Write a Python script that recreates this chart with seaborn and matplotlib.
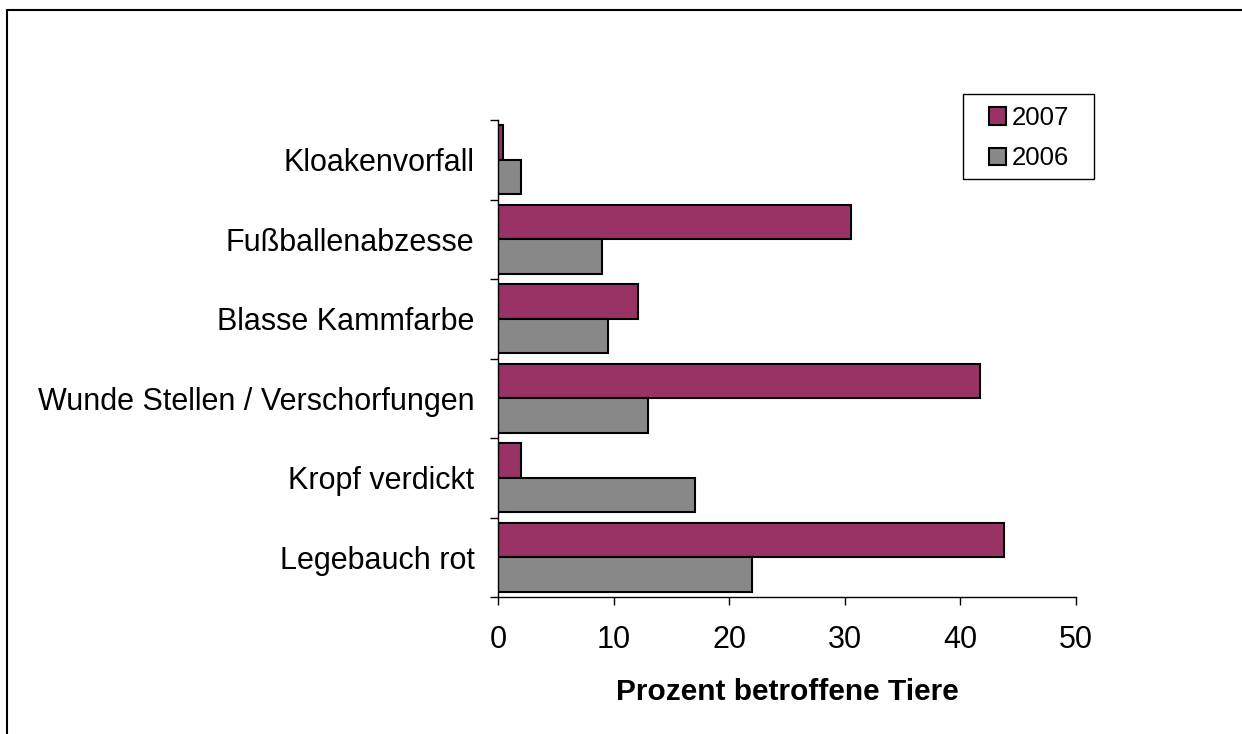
import pandas as pd
import matplotlib.pyplot as plt
import seaborn as sns
from matplotlib.patches import Rectangle

# Data
categories = ['Kloakenvorfall', 'Fußballenabzesse', 'Blasse Kammfarbe',
              'Wunde Stellen / Verschorfungen', 'Kropf verdickt', 'Legebauch rot']
values_2007 = [0.4, 30.5, 12.1, 41.7, 2.0, 43.8]
values_2006 = [2.0, 9.0, 9.5, 13.0, 17.0, 22.0]
years = ['2007', '2006']

df = pd.DataFrame({
    'Merkmal': categories * 2,
    'Jahr': ['2007'] * len(categories) + ['2006'] * len(categories),
    'Prozent': values_2007 + values_2006,
})

sns.set_style('white')
plt.rcParams['font.family'] = ['Liberation Sans', 'DejaVu Sans']
plt.rcParams['text.color'] = 'black'
plt.rcParams['axes.labelcolor'] = 'black'
plt.rcParams['xtick.color'] = 'black'
plt.rcParams['ytick.color'] = 'black'

fig = plt.figure(figsize=(12.42, 7.34), dpi=100)
ax = fig.add_axes([498 / 1242, 1 - 597 / 734, 578 / 1242, 477 / 734])

palette = {'2007': '#993366', '2006': '#888888'}
sns.barplot(data=df, y='Merkmal', x='Prozent', hue='Jahr', order=categories,
            hue_order=years, palette=palette, orient='h', width=0.87,
            edgecolor='black', linewidth=1.5, saturation=1, ax=ax)

ax.set_xlim(0, 50)
ax.set_ylim(len(categories) - 0.5, -0.5)
ax.set_xticks([0, 10, 20, 30, 40, 50])
ax.set_yticks(range(len(categories)))
ax.set_yticks([i - 0.5 for i in range(len(categories) + 1)], minor=True)
ax.tick_params(axis='y', which='major', length=0, pad=17, labelsize=22)
ax.tick_params(axis='y', which='minor', length=6, width=1, color='black', left=True)
ax.tick_params(axis='x', which='major', length=6, width=1, color='black',
               bottom=True, pad=14, labelsize=22)
ax.set_ylabel('')
ax.set_xlabel('Prozent betroffene Tiere', fontsize=21.5, fontweight='bold', labelpad=17)

for side in ['top', 'right']:
    ax.spines[side].set_visible(False)
for side in ['left', 'bottom']:
    ax.spines[side].set_color('black')
    ax.spines[side].set_linewidth(1)

ax.legend_.remove()
handles, labels = ax.get_legend_handles_labels()
leg = fig.legend(handles, labels, loc='upper left',
                 bbox_to_anchor=(989 / 1242, 1 - 106 / 734), fontsize=18.5,
                 frameon=False, borderaxespad=0, borderpad=0,
                 handlelength=0.65, handleheight=0.65, handletextpad=0.25,
                 labelspacing=0.63)

# legend box
fig.patches.append(Rectangle((963 / 1242, 1 - 179 / 734), 131 / 1242, 85 / 734,
                             transform=fig.transFigure, fill=False,
                             edgecolor='black', linewidth=1))

# outer chart border (only top and left edges visible)
fig.patches.append(Rectangle((7 / 1242, -0.2), 1.5, 1 - 10 / 734 + 0.2,
                             transform=fig.transFigure, fill=False,
                             edgecolor='black', linewidth=1.5))

fig.savefig('out.png', dpi=100)
